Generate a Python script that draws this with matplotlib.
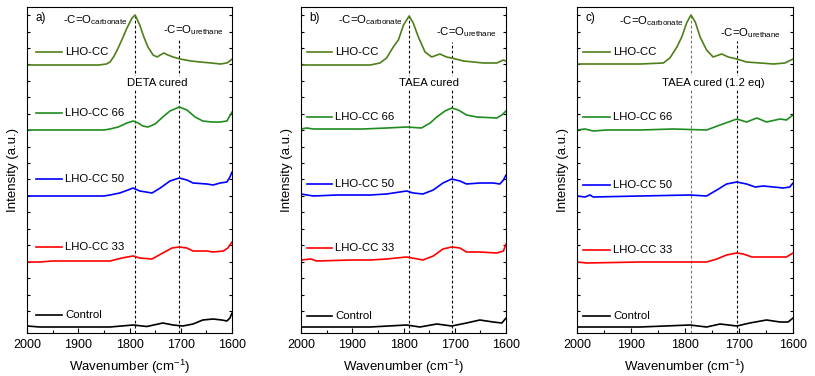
import matplotlib
matplotlib.use("Agg")
import matplotlib.pyplot as plt
import numpy as np
from matplotlib.ticker import MultipleLocator

plt.rcParams['font.family'] = ['Liberation Sans', 'DejaVu Sans']
plt.rcParams['mathtext.fontset'] = 'custom'
plt.rcParams['mathtext.rm'] = 'Liberation Sans'

# ---------------- data (wavenumber cm^-1, intensity a.u., stacked) ----------------
# Panel a) DETA cured
a_cc_w = [2000,1950,1900,1860,1845,1838,1830,1824,1815,1805,1795,1789,1780,1772,1764,1754,1746,1740,1733,1725,1715,1701,1680,1662,1640,1623,1610,1602,1600]
a_cc_i = [268,268,268,268,269,271,277,283,293,305,315,318,308,296,286,278,276,278,280,278,276,274,272,271,270,269,270,273,274]
a_66_w = [2000,1950,1900,1850,1838,1822,1805,1793,1783,1774,1764,1750,1735,1721,1703,1688,1672,1657,1640,1623,1610,1602,1600]
a_66_i = [203,203,203,203,204,206,210,212,210,207,206,209,216,222,226,223,216,212,211,211,212,219,221]
a_50_w = [2000,1950,1900,1850,1838,1819,1803,1793,1780,1756,1740,1721,1703,1688,1676,1649,1637,1623,1610,1604,1600]
a_50_i = [137,137,137,137,138,140,143,145,142,140,145,152,155,153,150,149,148,150,151,156,161]
a_33_w = [2000,1975,1950,1900,1850,1838,1815,1793,1780,1756,1735,1717,1703,1688,1676,1649,1637,1617,1608,1600]
a_33_i = [71,71,72,72,72,72,75,77,75,74,80,85,86,85,82,82,81,82,85,91]
a_ctl_w = [2000,1975,1900,1838,1793,1766,1735,1715,1696,1676,1657,1637,1620,1610,1604,1600]
a_ctl_i = [7,6,6,6,8,6.5,10,8,7,9,13,14,13,12,15,20]

# Panel b) TAEA cured
b_cc_w = [2000,1950,1900,1865,1846,1833,1820,1810,1800,1789,1781,1771,1758,1745,1729,1716,1706,1683,1644,1618,1605,1600]
b_cc_i = [268,268,268,268,270,275,286,293,308,317,310,296,281,276,279,276,275,272,270,270,273,272]
b_66_w = [2000,1989,1976,1930,1880,1833,1794,1765,1748,1735,1719,1706,1693,1677,1657,1618,1608,1600]
b_66_i = [204,205,204,204,204,205,206,205,210,216,222,225,223,218,216,215,218,222]
b_50_w = [2000,1976,1930,1865,1833,1794,1781,1762,1742,1723,1706,1690,1677,1651,1625,1612,1605,1600]
b_50_i = [139,137,138,138,139,142,140,139,143,150,154,152,149,150,150,149,153,158]
b_33_w = [2000,1980,1970,1900,1865,1833,1794,1762,1742,1723,1706,1690,1677,1651,1618,1605,1600]
b_33_i = [73,74,72,73,73,74,76,73,77,84,86,85,81,81,80,82,89]
b_ctl_w = [2000,1900,1865,1794,1768,1735,1706,1677,1651,1625,1608,1600]
b_ctl_i = [6,6,6,8,6,9,7,10,13,11,10,15]

# Panel c) TAEA cured (1.2 eq)
c_cc_w = [2000,1950,1883,1840,1828,1815,1806,1797,1789,1781,1772,1760,1748,1732,1720,1704,1686,1636,1615,1600]
c_cc_i = [269,269,269,270,275,286,296,310,318,311,296,283,276,279,276,274,271,269,270,274]
c_66_w = [2000,1985,1970,1945,1883,1822,1760,1735,1704,1686,1667,1649,1624,1612,1600]
c_66_i = [203,204,202,203,203,204,203,208,214,211,215,211,214,213,218]
c_50_w = [2000,1985,1976,1970,1883,1791,1760,1741,1723,1704,1686,1670,1655,1636,1618,1606,1600]
c_50_i = [137,136,138,136,137,138,137,143,149,151,149,146,147,146,145,146,150]
c_33_w = [2000,1982,1883,1760,1741,1723,1704,1692,1676,1636,1612,1600]
c_33_i = [71,70,71,71,74,78,80,79,76,76,76,80]
c_ctl_w = [2000,1883,1791,1760,1735,1704,1680,1649,1624,1609,1600]
c_ctl_i = [6,6,8,6,9,7,10,13,11,11,15]

series_names = ["LHO-CC", "LHO-CC 66", "LHO-CC 50", "LHO-CC 33", "Control"]
series_colors = ["#4f7f19", "#1e8c1e", "#0000ff", "#ff0000", "#000000"]
panel_letters = ["a)", "b)", "c)"]
panel_titles = ["DETA cured", "TAEA cured", "TAEA cured (1.2 eq)"]
carbonate_pos = [1789, 1789, 1789]
urethane_pos = [1703, 1705, 1704]

panels = [
    [(a_cc_w, a_cc_i), (a_66_w, a_66_i), (a_50_w, a_50_i), (a_33_w, a_33_i), (a_ctl_w, a_ctl_i)],
    [(b_cc_w, b_cc_i), (b_66_w, b_66_i), (b_50_w, b_50_i), (b_33_w, b_33_i), (b_ctl_w, b_ctl_i)],
    [(c_cc_w, c_cc_i), (c_66_w, c_66_i), (c_50_w, c_50_i), (c_33_w, c_33_i), (c_ctl_w, c_ctl_i)],
]

# ---------------- layout ----------------
W, H = 815, 376
fig = plt.figure(figsize=(W / 100, H / 100), dpi=100)
ax_px = [(27, 205), (301, 205), (577, 216)]
top_px, bot_px = 7, 333

# legend-like label positions (axes fraction)
leg_x = [(0.044, 0.171, 0.185), (0.029, 0.151, 0.166), (0.028, 0.153, 0.167)]
leg_y = [[0.862, 0.675, 0.472, 0.263, 0.055],
         [0.862, 0.663, 0.457, 0.260, 0.052],
         [0.863, 0.664, 0.454, 0.255, 0.052]]
carb_label_x = [1930, 1928, 1922]
carb_label_y = [310, 310, 309]
ure_label_x = [1735, 1737, 1735]
ure_label_y = [300, 298, 297]
title_x = [1746, 1750, 1748]
ure_top = [0.902, 0.893, 0.896]
carb_color = ["black", "black", "0.45"]

for p in range(3):
    left, width = ax_px[p]
    ax = fig.add_axes([left / W, 1 - bot_px / H, width / W, (bot_px - top_px) / H])
    for (w, i), col in zip(panels[p], series_colors):
        ax.plot(w, i, color=col, lw=1.2, solid_joinstyle='round', solid_capstyle='round')
    ax.set_xlim(2000, 1600)
    ax.set_ylim(0, bot_px - top_px)
    ax.xaxis.set_major_locator(MultipleLocator(100))
    ax.xaxis.set_minor_locator(MultipleLocator(50))
    ax.set_yticks(np.arange(22, 326, 16.44))
    ax.tick_params(axis='x', which='major', direction='in', length=3.5, width=0.8,
                   labelsize=9, pad=4)
    ax.tick_params(axis='x', which='minor', direction='in', length=2, width=0.8)
    ax.tick_params(axis='y', direction='in', length=2.5, width=0.8, left=True, right=True,
                   labelleft=False)
    for s in ax.spines.values():
        s.set_linewidth(0.8)
    ax.set_xlabel("Wavenumber (cm$^{-1}$)", fontsize=9.5, labelpad=5)
    ax.set_ylabel("Intensity (a.u.)", fontsize=9.5, labelpad=6)

    # reference dashed lines
    ax.axvline(carbonate_pos[p], ymin=0, ymax=0.975, color=carb_color[p], lw=0.8,
               ls=(0, (2.5, 2)), zorder=1)
    ax.axvline(urethane_pos[p], ymin=0, ymax=ure_top[p], color='black', lw=0.8,
               ls=(0, (2.5, 2)), zorder=1)

    ax.text(title_x[p], 250, panel_titles[p], fontsize=8.2, ha='center', va='center',
            bbox=dict(facecolor='white', edgecolor='none', pad=1.5), zorder=3)
    ax.text(carb_label_x[p], carb_label_y[p], r"-C=O$_\mathregular{carbonate}$",
            fontsize=8.2, ha='left', va='baseline', zorder=3)
    ax.text(ure_label_x[p], ure_label_y[p], r"-C=O$_\mathregular{urethane}$",
            fontsize=8.2, ha='left', va='baseline', zorder=3)
    ax.text(0.04, 0.966, panel_letters[p], transform=ax.transAxes, fontsize=8.5,
            ha='left', va='center')

    x0, x1, xt = leg_x[p]
    for k in range(5):
        yy = leg_y[p][k]
        ax.plot([x0, x1], [yy, yy], transform=ax.transAxes, color=series_colors[k], lw=1.2)
        ax.text(xt, yy, series_names[k], transform=ax.transAxes, fontsize=8.2,
                ha='left', va='center')

fig.savefig("out.png", dpi=100)
